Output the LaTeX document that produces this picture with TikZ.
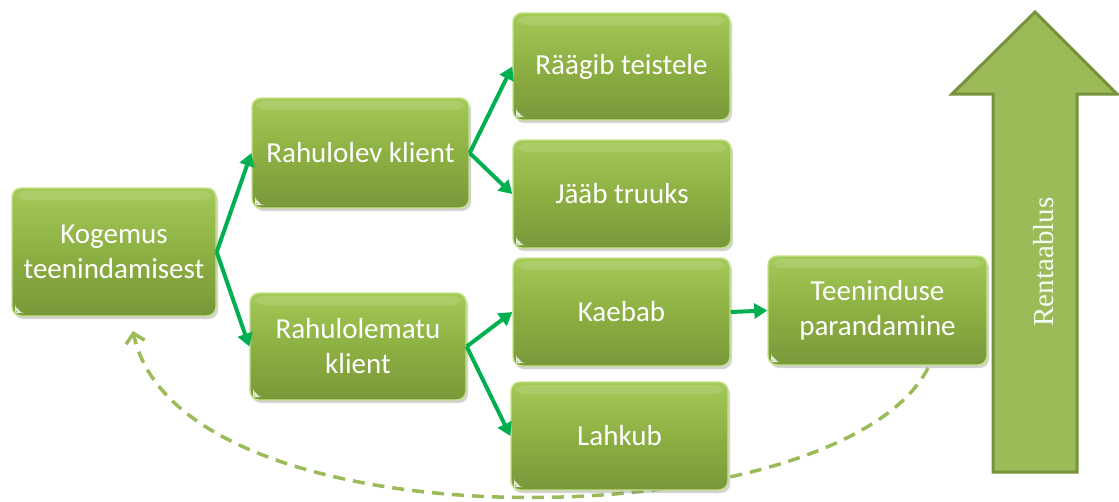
\documentclass[tikz,border=0pt]{standalone}
\usepackage{fontspec}
\setmainfont{Carlito}
\newfontfamily\timesfont{Liberation Serif}
\usetikzlibrary{arrows.meta,shadows,calc}

\definecolor{boxtop}{HTML}{A3C957}
\definecolor{boxmid}{HTML}{8DB043}
\definecolor{boxbot}{HTML}{789839}
\definecolor{boxrim}{HTML}{C4E38A}
\definecolor{linkgreen}{HTML}{00B050}
\definecolor{loopgreen}{HTML}{9BBB59}
\definecolor{bigfill}{HTML}{9BBB59}
\definecolor{bigedge}{HTML}{76923C}

\tikzset{
  stepbox/.style={
    rectangle, rounded corners=9pt, inner sep=0pt,
    top color=boxtop, bottom color=boxbot, middle color=boxmid,
    draw=boxrim, line width=1.4pt,
    drop shadow={opacity=0.35, shadow xshift=2pt, shadow yshift=-3pt},
    text=white, align=center,
    font=\fontsize{29}{35}\selectfont,
    path picture={
      \fill[white,opacity=0.85]
        ($(path picture bounding box.south west)+(3pt,3pt)$) -- ++(7pt,0pt) -- ++(-7pt,7pt) -- cycle;
      \fill[white,opacity=0.12]
        ($(path picture bounding box.north west)+(4pt,-3pt)$) rectangle
        ($(path picture bounding box.north east)+(-4pt,-12pt)$);
    }
  },
  link/.style={draw=linkgreen, line width=4pt,
    -{Triangle[length=13pt,width=15pt]}},
  loop/.style={draw=loopgreen, line width=3.5pt, dash pattern=on 12pt off 8pt,
    -{Straight Barb[length=9pt,width=19pt]}}
}

\begin{document}
\begin{tikzpicture}[x=1pt,y=-1pt]
\useasboundingbox (0,0) rectangle (1119,501);

% feedback loop, drawn first so the boxes sit on top of it
\coordinate (loopstart) at (928,368);
\coordinate (loopend) at (133,331);
\draw[loop] (loopstart) .. controls (840,540) and (180,552) .. (loopend);

% boxes
\node[stepbox, minimum width=204pt, minimum height=128pt] (kog) at (114,252) {Kogemus\\teenindamisest};
\node[stepbox, minimum width=217pt, minimum height=110pt] (rah) at (360.5,153) {Rahulolev klient};
\node[stepbox, minimum width=216pt, minimum height=107pt] (rahm) at (358,346.5) {Rahulolematu\\klient};
\node[stepbox, minimum width=217pt, minimum height=107pt] (raag) at (621.5,66.5) {Räägib teistele};
\node[stepbox, minimum width=218pt, minimum height=108pt] (jaab) at (622,194) {Jääb truuks};
\node[stepbox, minimum width=217pt, minimum height=108pt] (kaeb) at (621.5,312) {Kaebab};
\node[stepbox, minimum width=217pt, minimum height=108pt] (lahk) at (619.5,436) {Lahkub};
\node[stepbox, minimum width=219pt, minimum height=109pt] (teen) at (877.5,310.5) {Teeninduse\\parandamine};

% connectors
\draw[link] (kog.east) -- (rah.west);
\draw[link] (kog.east) -- (rahm.west);
\draw[link] (rah.east) -- (raag.west);
\draw[link] (rah.east) -- (jaab.west);
\draw[link] (rahm.east) -- (kaeb.west);
\draw[link] (rahm.east) -- (lahk.west);
\draw[link] (kaeb.east) -- (teen.west);

% profitability arrow
\draw[fill=bigfill, draw=bigedge, line width=3pt, line join=miter]
  (1035,12) -- (1117,94) -- (1077,94) -- (1077,472) -- (993,472) -- (993,94) -- (952,94) -- cycle;
\node[rotate=90, text=white!95!green, font=\timesfont\fontsize{29}{35}\selectfont, inner sep=0pt] (rent) at (1044,262) {Rentaablus};
\end{tikzpicture}
\end{document}
